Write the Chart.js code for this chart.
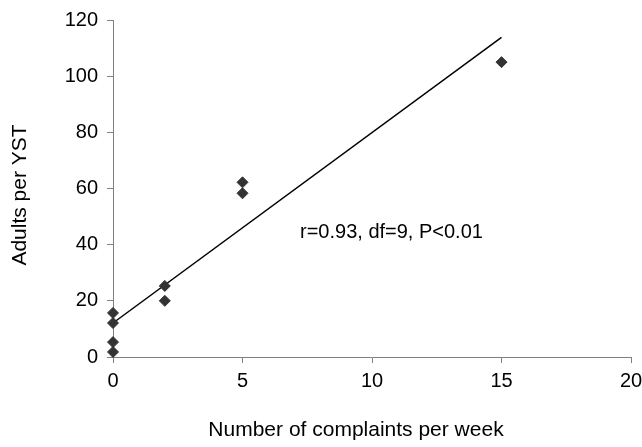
<!DOCTYPE html>
<html>
<head>
<meta charset="utf-8">
<script src="https://cdn.jsdelivr.net/npm/chart.js@4/dist/chart.umd.min.js"></script>
<style>
  html, body { margin: 0; padding: 0; background: #fff; }
  #wrap { width: 642px; height: 447px; position: relative; }
</style>
</head>
<body>
<div id="wrap"><canvas id="c" width="642" height="447"></canvas></div>
<script>
// Data
const complaintsX = [0, 0, 0, 0, 2, 2, 5, 5, 15];
const adultsY = [15.7, 12.1, 5.3, 1.8, 25.3, 20.0, 62.2, 58.3, 105];
const fitX = [0, 15];
const fitY = [12.1, 113.8];
const xTitle = 'Number of complaints per week';
const yTitle = 'Adults per YST';
const statText = 'r=0.93, df=9, P<0.01';
const statPos = [7.22, 44.2];

const FONT = '"Liberation Sans", Arial, sans-serif';
const AXIS_GRAY = '#808080';

const titlesPlugin = {
  id: 'titles',
  afterDraw(chart) {
    const ctx = chart.ctx;
    const xs = chart.scales.x, ys = chart.scales.y;
    ctx.save();
    ctx.fillStyle = '#000';
    ctx.font = '20px ' + FONT;
    ctx.textAlign = 'left';
    ctx.textBaseline = 'middle';
    ctx.fillText(statText, xs.getPixelForValue(statPos[0]), ys.getPixelForValue(statPos[1]));
    ctx.font = '21px ' + FONT;
    ctx.textAlign = 'center';
    ctx.textBaseline = 'middle';
    ctx.fillText(xTitle, 356, 430);
    ctx.translate(20.5, 195);
    ctx.rotate(-Math.PI / 2);
    ctx.fillText(yTitle, 0, 0);
    ctx.restore();
  }
};

new Chart(document.getElementById('c'), {
  type: 'scatter',
  data: {
    datasets: [
      {
        label: 'Fit',
        type: 'line',
        data: fitX.map((x, i) => ({ x, y: fitY[i] })),
        borderColor: '#000',
        borderWidth: 1.5,
        pointRadius: 0,
        fill: false,
        tension: 0,
        clip: false,
        order: 2
      },
      {
        label: 'Observed',
        data: complaintsX.map((x, i) => ({ x, y: adultsY[i] })),
        pointStyle: 'rectRot',
        pointRadius: 5.5,
        pointBackgroundColor: '#333333',
        pointBorderColor: '#333333',
        pointBorderWidth: 1,
        clip: false,
        order: 1
      }
    ]
  },
  options: {
    responsive: false,
    animation: false,
    devicePixelRatio: 1,
    layout: { padding: { left: 0, right: 11, top: 20, bottom: 0 } },
    plugins: {
      legend: { display: false },
      tooltip: { enabled: false },
      title: { display: false }
    },
    scales: {
      x: {
        type: 'linear',
        min: 0, max: 20,
        afterFit(s) { s.height = 90; s.paddingRight = 0; s.paddingLeft = 0; },
        ticks: {
          stepSize: 5,
          maxRotation: 0,
          color: '#000',
          padding: 6,
          font: { family: FONT, size: 20 }
        },
        grid: {
          display: true,
          drawOnChartArea: false,
          drawTicks: true,
          tickLength: 6,
          color: AXIS_GRAY
        },
        border: { display: true, color: AXIS_GRAY, width: 1 }
      },
      y: {
        type: 'linear',
        min: 0, max: 120,
        afterFit(s) { s.width = 113; s.paddingTop = 0; s.paddingBottom = 0; },
        ticks: {
          stepSize: 20,
          color: '#000',
          padding: 9,
          font: { family: FONT, size: 20 }
        },
        grid: {
          display: true,
          drawOnChartArea: false,
          drawTicks: true,
          tickLength: 6,
          color: AXIS_GRAY
        },
        border: { display: true, color: AXIS_GRAY, width: 1 }
      }
    }
  },
  plugins: [titlesPlugin]
});
</script>
</body>
</html>
